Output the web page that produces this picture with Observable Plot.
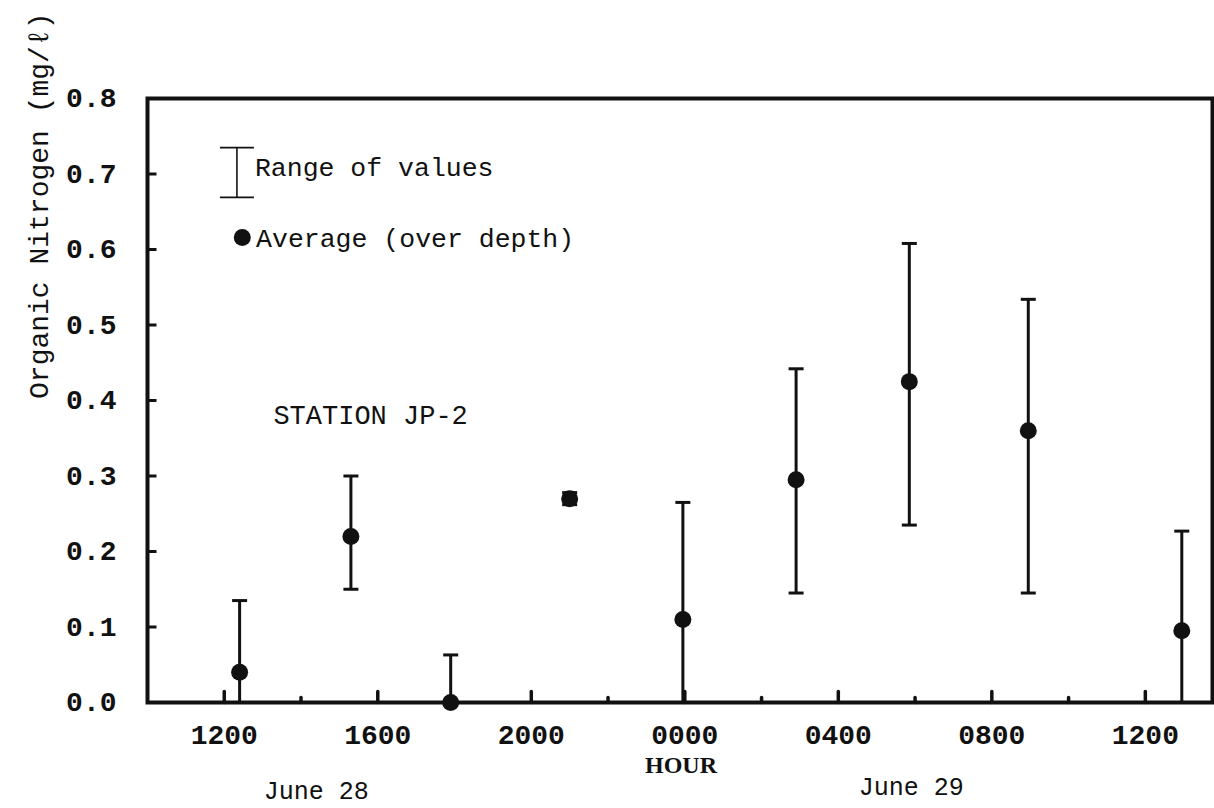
<!DOCTYPE html>
<html>
<head>
<meta charset="utf-8">
<script src="https://cdn.jsdelivr.net/npm/d3@7"></script>
<script src="https://cdn.jsdelivr.net/npm/@observablehq/plot@0.6"></script>
<style>
  html, body { margin: 0; padding: 0; background: #fff; }
  #chart svg { display: block; }
</style>
</head>
<body>
<div id="chart"></div>
<script>
// Sampling times at station JP-2, in hours counted from 00:00 on June 28
const sampleHour = [12.4, 15.3, 17.9, 21.0, 23.95, 26.9, 29.85, 32.95, 36.95];
// Organic nitrogen (mg/l): depth average and range over depth
const averageN = [0.04, 0.22, 0.0, 0.27, 0.11, 0.295, 0.425, 0.36, 0.095];
const minN     = [0.0, 0.15, 0.0, 0.262, 0.0, 0.145, 0.235, 0.145, 0.0];
const maxN     = [0.135, 0.30, 0.063, 0.278, 0.265, 0.442, 0.608, 0.534, 0.227];

// Axis ticks
const hourTicks = [12, 16, 20, 24, 28, 32, 36];
const hourLabels = ["1200", "1600", "2000", "0000", "0400", "0800", "1200"];
const minorHourTicks = [14, 18, 22, 26, 30, 34];
const nTicks = [0, 0.1, 0.2, 0.3, 0.4, 0.5, 0.6, 0.7, 0.8];

const samples = sampleHour.map((hour, i) => ({
  hour, avg: averageN[i], min: minN[i], max: maxN[i]
}));

// Small custom symbols: horizontal caps and inward tick marks
const cap = (half) => ({ draw(ctx) { ctx.moveTo(-half, 0); ctx.lineTo(half, 0); } });
const tickUp = (len) => ({ draw(ctx) { ctx.moveTo(0, 0); ctx.lineTo(0, -len); } });
const tickRight = (len) => ({ draw(ctx) { ctx.moveTo(0, 0); ctx.lineTo(len, 0); } });

const xMin = 10, xMax = 37.75;
const mono = "'Liberation Mono', 'DejaVu Sans Mono', monospace";

const chart = Plot.plot({
  width: 1214,
  height: 808,
  marginLeft: 147,
  marginRight: 2,
  marginTop: 98,
  marginBottom: 106,
  style: { fontFamily: mono, color: "#111", background: "#fff", overflow: "visible" },
  x: { domain: [xMin, xMax] },
  y: { domain: [0, 0.8] },
  marks: [
    // axis labels
    Plot.axisX(hourTicks, {
      tickSize: 0, tickPadding: 22, label: null,
      tickFormat: (d) => hourLabels[hourTicks.indexOf(d)],
      fontSize: 28, fontWeight: "bold"
    }),
    Plot.axisY(nTicks, {
      tickSize: 0, tickPadding: 31, label: null,
      tickFormat: d3.format(".1f"),
      fontSize: 28, fontWeight: "bold"
    }),
    // inward ticks
    Plot.dot(hourTicks, { x: (d) => d, y: 0, symbol: tickUp(11), stroke: "#111", fill: "none", strokeWidth: 3.5, strokeLinecap: "round" }),
    Plot.dot(minorHourTicks, { x: (d) => d, y: 0, symbol: tickUp(5), stroke: "#111", fill: "none", strokeWidth: 3.5, strokeLinecap: "round" }),
    Plot.dot(nTicks, { x: xMin, y: (d) => d, symbol: tickRight(9), stroke: "#111", fill: "none", strokeWidth: 3 }),
    Plot.frame({ stroke: "#111", strokeWidth: 4 }),

    // range of values
    Plot.ruleX(samples, { x: "hour", y1: "min", y2: "max", stroke: "#111", strokeWidth: 3 }),
    Plot.dot(samples, { x: "hour", y: "max", symbol: cap(7.5), stroke: "#111", fill: "none", strokeWidth: 3 }),
    Plot.dot(samples.filter((d) => d.min > 0), { x: "hour", y: "min", symbol: cap(7.5), stroke: "#111", fill: "none", strokeWidth: 3 }),
    // depth average
    Plot.dot(samples, { x: "hour", y: "avg", r: 8.5, fill: "#111", stroke: "none" }),

    // legend
    Plot.ruleX([12.33], { y1: 0.669, y2: 0.735, stroke: "#111", strokeWidth: 1.6 }),
    Plot.dot([0.669, 0.735], { x: 12.33, y: (d) => d, symbol: cap(17), stroke: "#111", fill: "none", strokeWidth: 1.6 }),
    Plot.text(["Range of values"], { x: 12.8, y: 0.708, textAnchor: "start", fontSize: 26.5 }),
    Plot.dot([0.616], { x: 12.47, y: (d) => d, r: 8.5, fill: "#111", stroke: "none" }),
    Plot.text(["Average (over depth)"], { x: 12.83, y: 0.615, textAnchor: "start", fontSize: 26.5 }),

    Plot.text(["STATION JP-2"], { x: 13.28, y: 0.38, textAnchor: "start", fontSize: 27 }),

    // titles
    Plot.text(["Organic Nitrogen (mg/ℓ)"], {
      frameAnchor: "top-left", dx: -119, dy: -86, rotate: -90, textAnchor: "end", fontSize: 28
    }),
    Plot.text(["HOUR"], { x: [23.9], frameAnchor: "bottom", dy: 70, fontFamily: "'Liberation Serif', serif", fontWeight: "bold", fontSize: 24 }),
    Plot.text(["June 28"], { x: [14.4], frameAnchor: "bottom", dy: 96, fontSize: 25 }),
    Plot.text(["June 29"], { x: [29.9], frameAnchor: "bottom", dy: 92, fontSize: 25 })
  ]
});

document.getElementById("chart").appendChild(chart);
</script>
</body>
</html>
